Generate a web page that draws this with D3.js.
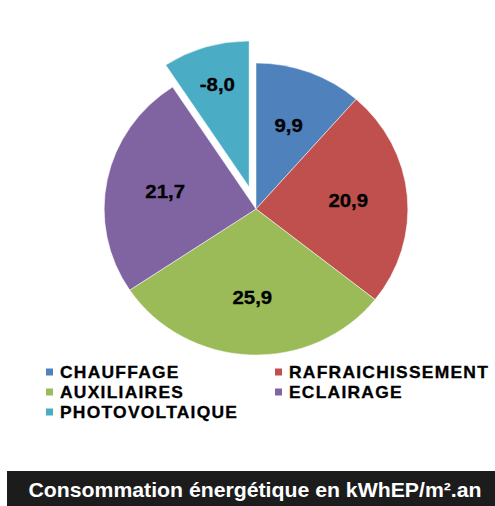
<!DOCTYPE html>
<html>
<head>
<meta charset="utf-8">
<script src="https://cdn.jsdelivr.net/npm/d3@7/dist/d3.min.js"></script>
<style>
  html, body { margin: 0; padding: 0; background: #fff; }
  svg { display: block; font-family: "Liberation Sans", Arial, sans-serif; }
</style>
</head>
<body>
<div id="chart"></div>
<script>
// --- data ---
const categories = ["CHAUFFAGE", "RAFRAICHISSEMENT", "AUXILIAIRES", "ECLAIRAGE", "PHOTOVOLTAIQUE"];
const values = [9.9, 20.9, 25.9, 21.7, -8.0];
const colors = ["#4F81BD", "#C0504D", "#9BBB59", "#8064A2", "#4BACC6"];
const explodedIndex = 4;
const title = "Consommation énergétique en kWhEP/m².an";

const width = 495, height = 506;
const cx = 256, cy = 209, r = 146;

const svg = d3.select("#chart").append("svg")
  .attr("width", width)
  .attr("height", height);

const rows = categories.map((c, i) => ({ name: c, value: values[i], color: colors[i], i }));

const pie = d3.pie()
  .sort(null)
  .value(d => Math.abs(d.value));

const arc = d3.arc().innerRadius(0).outerRadius(r);
const fmt = v => v.toFixed(1).replace(".", ",");

// the picture is slightly wider than tall
const g = svg.append("g")
  .attr("transform", `translate(${cx},${cy}) scale(1.04,1)`);

const slices = g.selectAll("g.slice")
  .data(pie(rows))
  .join("g")
  .attr("class", "slice")
  .attr("transform", d => {
    if (d.data.i !== explodedIndex) return null;
    const mid = (d.startAngle + d.endAngle) / 2;
    return `translate(${Math.sin(mid) * 23},${-Math.cos(mid) * 23})`;
  });

slices.append("path")
  .attr("d", arc)
  .attr("fill", d => d.data.color)
  .attr("stroke", "#fff")
  .attr("stroke-width", 0.5);

slices.append("text")
  .attr("transform", d => {
    const mid = (d.startAngle + d.endAngle) / 2;
    const k = d.data.i === explodedIndex ? 0.73 : 0.61;
    return `translate(${Math.sin(mid) * r * k},${-Math.cos(mid) * r * k}) scale(1.06,1)`;
  })
  .attr("text-anchor", "middle")
  .attr("dy", "0.35em")
  .attr("font-size", 18.5)
  .attr("font-weight", "bold")
  .attr("fill", "#000")
  .attr("stroke", "#000")
  .attr("stroke-width", 0.3)
  .text(d => fmt(d.data.value));

// --- legend ---
const legend = svg.append("g").attr("transform", "translate(46,372)");
const item = legend.selectAll("g")
  .data(rows)
  .join("g")
  .attr("transform", (d, i) => `translate(${(i % 2) * 229},${Math.floor(i / 2) * 20})`);

item.append("rect")
  .attr("x", 0).attr("y", -3.5)
  .attr("width", 7).attr("height", 7)
  .attr("fill", d => d.color);

item.append("text")
  .attr("transform", "translate(14,0) scale(1.09,1)")
  .attr("dy", "0.36em")
  .attr("font-size", 16)
  .attr("font-weight", "bold")
  .attr("letter-spacing", 1.15)
  .attr("fill", "#000")
  .attr("stroke", "#000")
  .attr("stroke-width", 0.3)
  .text(d => d.name);

// --- title bar ---
svg.append("rect")
  .attr("x", 7).attr("y", 471)
  .attr("width", width - 7).attr("height", height - 471)
  .attr("fill", "#1c1c1c");

svg.append("text")
  .attr("transform", "translate(255,497) scale(1.09,1)")
  .attr("text-anchor", "middle")
  .attr("font-size", 19.5)
  .attr("font-weight", "bold")
  .attr("fill", "#fff")
  .text(title);
</script>
</body>
</html>
